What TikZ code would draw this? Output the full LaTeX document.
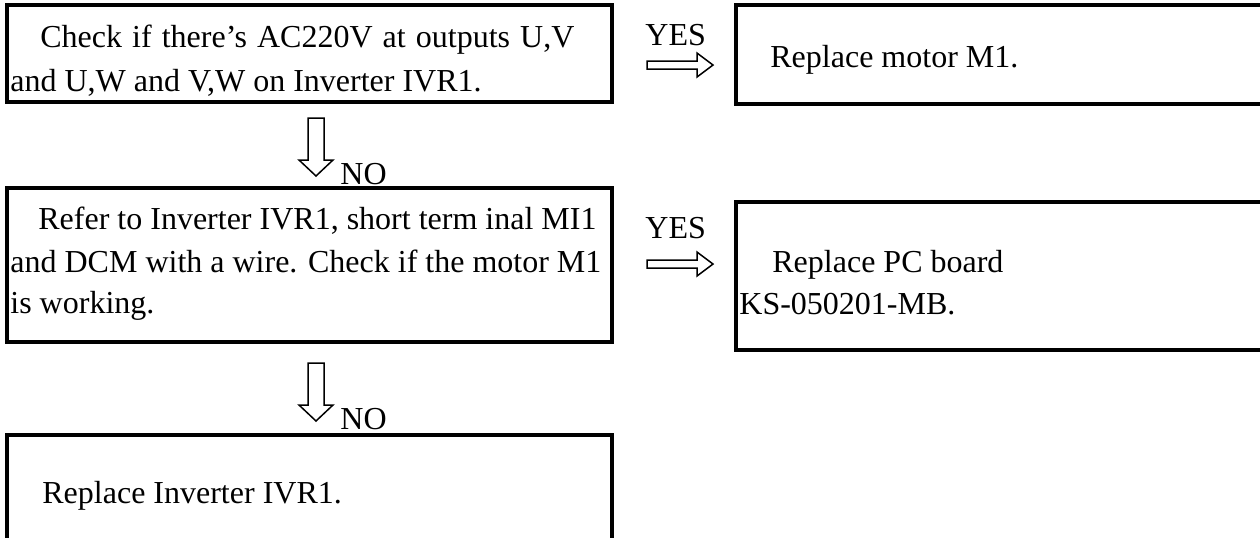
\documentclass[tikz,border=0pt]{standalone}
\usepackage{fontspec}
\setmainfont{Liberation Serif}
\begin{document}
\begin{tikzpicture}[x=0.5pt,y=-0.5pt,
  box/.style={draw,line width=1.7pt},
  txt/.style={anchor=base west,inner sep=0pt,font=\fontsize{16pt}{19pt}\selectfont},
  arr/.style={draw,line width=0.75pt,line join=miter},
  harrow/.pic={\draw[arr] (0,-4) -- (50,-4) -- (50,-12) -- (66,0) -- (50,12) -- (50,4) -- (0,4) -- cycle;},
  varrow/.pic={\draw[arr] (-8,0) -- (8,0) -- (8,42) -- (17,42) -- (0,58) -- (-17,42) -- (-8,42) -- cycle;}]
\useasboundingbox (0,0) rectangle (1260,537);
% boxes
\draw[box] (7,5) rectangle (612,102);
\draw[box] (736,5) rectangle (1275,104);
\draw[box] (7,188) rectangle (612,342);
\draw[box] (736,202) rectangle (1275,350);
\draw[box] (7,435) rectangle (612,560);
% texts
\node[txt] (t1a) at (40,47) {\makebox[267pt][s]{Check if there’s AC220V at outputs U,V}};
\node[txt] (t1b) at (10,91) {and U,W and V,W on Inverter IVR1.};
\node[txt] (r1) at (770,67) {Replace motor M1.};
\node[txt] (t2a) at (38,229) {Refer to Inverter IVR1, short term inal MI1};
\node[txt] (t2b) at (10,272) {and DCM with a wire. Check if the motor M1};
\node[txt] (t2c) at (10,313) {is working.};
\node[txt] (r2a) at (772,272) {Replace PC board};
\node[txt] (r2b) at (739,314) {KS-050201-MB.};
\node[txt] (t3) at (42,503) {Replace Inverter IVR1.};
% labels
\node[txt] (yes1) at (645,45) {YES};
\node[txt] (yes2) at (645,238) {YES};
\node[txt] (no1) at (340,184) {NO};
\node[txt] (no2) at (340,429) {NO};
% arrows
\pic at (647,65) {harrow};
\pic at (647,264) {harrow};
\pic at (316,118) {varrow};
\pic at (316,363) {varrow};
\end{tikzpicture}
\end{document}
